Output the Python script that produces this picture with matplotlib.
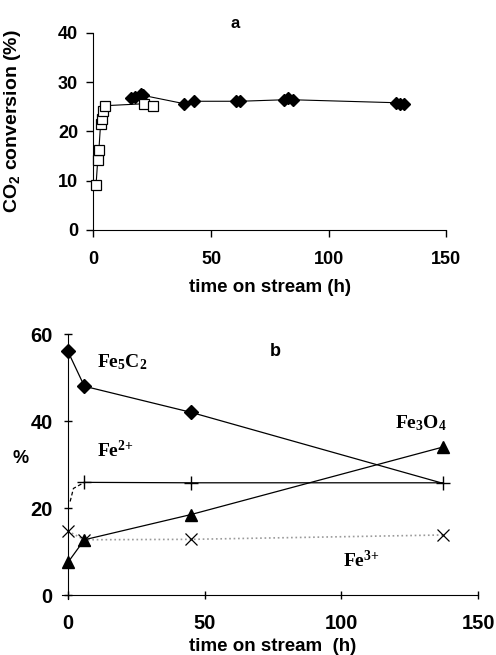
import matplotlib.pyplot as plt

plt.rcParams['font.family'] = 'Liberation Sans'
plt.rcParams['font.weight'] = 'bold'
plt.rcParams['axes.labelweight'] = 'bold'
plt.rcParams['mathtext.fontset'] = 'custom'
plt.rcParams['mathtext.rm'] = 'Liberation Sans:bold'
plt.rcParams['mathtext.bf'] = 'Liberation Serif:bold'

# panel a: CO2 conversion
sq_t = [1.1, 1.8, 2.3, 3.0, 3.6, 4.2, 5.0, 21.6, 25.2]
sq_conv = [9.2, 14.2, 16.3, 21.4, 22.5, 24.1, 25.2, 25.6, 25.2]
dia_t = [16.0, 17.5, 20.2, 21.0, 38.6, 42.9, 60.6, 62.3, 80.8, 82.5, 85.0, 128.7, 130.4, 132.1]
dia_conv = [26.8, 27.0, 27.6, 27.3, 25.6, 26.1, 26.1, 26.1, 26.4, 26.7, 26.4, 25.8, 25.6, 25.6]

# panel b: phase composition
t_b = [0, 6, 45, 137]
fe5c2 = [56, 48, 42, 25.7]
fe2 = [25.9, 25.8, 25.8]
fe2_start_t = [0.8, 2.0, 6]
fe2_start = [21.5, 24.5, 25.9]
fe3 = [14.7, 12.7, 12.8, 13.8]
fe3o4 = [7.5, 12.7, 18.5, 34]

fig = plt.figure(figsize=(4.96, 6.55), dpi=100)

ax1 = fig.add_axes([0.1885, 0.649, 0.7115, 0.301])
ax1.plot(sq_t, sq_conv, color='black', lw=0.8, marker='s', ms=7,
         mfc='white', mec='black', mew=0.9, zorder=3, clip_on=False)
ax1.plot(dia_t, dia_conv, color='black', lw=0.8, marker='D', ms=6,
         mfc='black', mec='black', zorder=2, clip_on=False)
ax1.set_xlim(0, 150)
ax1.set_ylim(0, 40)
ax1.set_xticks([0, 50, 100, 150])
ax1.set_yticks([0, 10, 20, 30, 40])
ax1.spines['top'].set_visible(False)
ax1.spines['right'].set_visible(False)
ax1.tick_params(labelsize=13, width=1, length=5, direction='out')
ax1.tick_params(axis='x', pad=10)
ax1.tick_params(axis='y', pad=6)
ax1.set_xlabel('time on stream (h)', fontsize=13.5, labelpad=8)
ax1.set_ylabel('CO$_2$ conversion (%)', fontsize=14)
ax1.yaxis.set_label_coords(-0.2, 0.553)
ax1.text(60, 41.8, 'a', fontsize=12, ha='center', va='center')

ax2 = fig.add_axes([0.137, 0.0916, 0.827, 0.3984])
ax2.plot(t_b, fe5c2, color='black', lw=0.9, marker='D', ms=7.5,
         markevery=[0, 1, 2], clip_on=False)
ax2.plot(fe2_start_t, fe2_start, color='black', lw=0.9, ls=(0, (3, 2)))
ax2.plot(t_b[1:], fe2, color='black', lw=0.9, marker='+', ms=10, mew=1,
         clip_on=False)
ax2.plot(t_b, fe3, color='#9a9a9a', lw=1.2, ls=':', zorder=1)
ax2.plot(t_b, fe3, ls='none', marker='x', ms=9, mec='black', mew=0.9,
         clip_on=False)
ax2.plot(t_b, fe3o4, color='black', lw=0.9, marker='^', ms=9, clip_on=False)
ax2.set_xlim(0, 150)
ax2.set_ylim(0, 60)
ax2.set_xticks([0, 50, 100, 150])
ax2.set_yticks([0, 20, 40, 60])
ax2.spines['top'].set_visible(False)
ax2.spines['right'].set_visible(False)
ax2.spines['left'].set_bounds(-1, 60)
ax2.spines['bottom'].set_bounds(-2, 150)
ax2.tick_params(labelsize=14.5, width=1, length=6, direction='inout', pad=8)
ax2.tick_params(axis='x', pad=11)
ax2.set_xlabel('time on stream  (h)', fontsize=13.5, labelpad=3)
ax2.set_ylabel('%', fontsize=13, rotation=0)
ax2.yaxis.set_label_coords(-0.115, 0.49)
ax2.text(75.7, 55.9, 'b', fontsize=13, ha='center', va='center')

ax2.text(10.6, 53.6, r'$\mathbf{Fe_5C_2}$', fontsize=14, va='center')
ax2.text(10.6, 33.3, r'$\mathbf{Fe^{2{+}}}$', fontsize=14, va='center')
ax2.text(119.6, 39.5, r'$\mathbf{Fe_3O_4}$', fontsize=14, va='center')
ax2.text(100.6, 8, r'$\mathbf{Fe^{3{+}}}$', fontsize=14, va='center')

fig.savefig('out.png', dpi=100)
